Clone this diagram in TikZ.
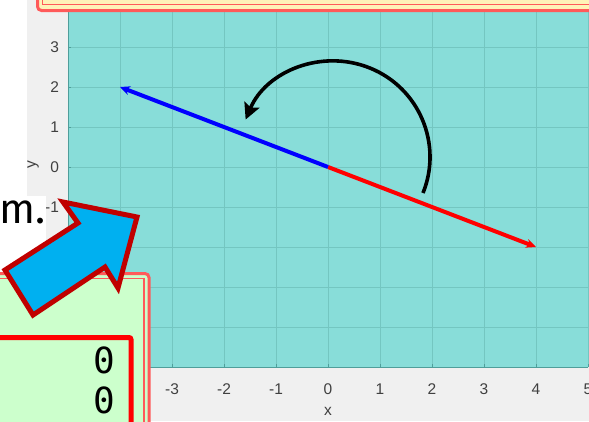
\documentclass[tikz,border=0pt]{standalone}
\usepackage{fontspec}
\setmainfont{Liberation Sans}
\newfontfamily\handfont{Fira Sans}
\newfontfamily\zerofont{DejaVu Sans Mono}
\usepackage{tikz}
\usetikzlibrary{arrows.meta,positioning,calc}
\definecolor{figgray}{HTML}{F0F0F0}
\definecolor{plotbg}{HTML}{88DDD9}
\definecolor{gridc}{HTML}{74C6C1}
\definecolor{axisc}{HTML}{4F9E9A}
\definecolor{ticklab}{HTML}{404040}
\definecolor{boxred}{HTML}{FF5A5A}
\definecolor{noteyellow}{HTML}{FFF2B8}
\definecolor{notegreen}{HTML}{CCFFCC}
\definecolor{arrowblue}{HTML}{00B0F0}
\definecolor{arrowedge}{HTML}{C00000}

\begin{document}
\begin{tikzpicture}[x=1pt, y=-1pt,
  tick/.style={font=\fontsize{15.5}{17}\selectfont\color{ticklab}, inner sep=0pt},
  gridline/.style={gridc, line width=0.9pt},
  vec/.style={line width=4pt, -{Stealth[length=10pt, width=9pt]}},
  turn/.style={line width=3.6pt, -{Stealth[length=16pt, width=16pt, inset=3pt]}},
  notebox/.style={boxred, line width=3pt, rounded corners=4pt},
]
% Canvas: 589 x 421 px, one px = 1pt, y grows downwards
\useasboundingbox (0,0) rectangle (589,421);
\fill[white] (0,0) rectangle (589,421);
\fill[figgray] (27,0) rectangle (589,421);

% Plot area: x in [-5,5] -> 52pt per unit, y in [-5,4.2] -> 40pt per unit
\begin{scope}[shift={(328,167)}, x=52pt, y=40pt]
  \fill[plotbg] (-5,-5) rectangle (5,4.2);
  \foreach \k in {-5,...,5} {
    \draw[gridline] (\k,-5) -- (\k,4.2);
    \draw[axisc, line width=0.8pt] (\k,-5) -- ++(0,3pt);
    \node[tick] (xl\k) at (\k,-5.55) {\k};
  }
  \foreach \k in {-5,...,4} {
    \draw[gridline] (-5,\k) -- (5,\k);
    \draw[axisc, line width=0.8pt] (-5,\k) -- ++(3pt,0);
    \node[tick, anchor=east] (yl\k) at (-5.17,\k) {\k};
  }
  \draw[axisc, line width=1pt] (-5,4.2) -- (-5,-5) -- (5,-5);
  \node[tick, rotate=90] (ylab) at (-5.67,0.05) {y};
  \node[tick] (xlab) at (0,-6.1) {x};

  % the vector and its rotated copy
  \coordinate (o) at (0,0);
  \coordinate (vb) at (-4,2);
  \coordinate (vr) at (4,-2);
  \draw[vec, red] (o) -- (vr);
  \draw[vec, blue] (o) -- (vb);
\end{scope}

% Rotation arrow (circle about (334,157), r = 96)
\coordinate (rs) at (423,193);
\draw[turn] (rs) arc[start angle=22, end angle=-157, radius=96];

% Callout strip at the top
\draw[notebox, fill=noteyellow] (37.5,-20) rectangle (640,10.5);
\draw[boxred, line width=1.8pt] (42.5,-20) rectangle (640,4.5);

% Text on the left
\fill[white] (0,196) rectangle (46,272);
\node[font=\handfont\fontsize{42}{46}\selectfont, anchor=base east, inner sep=0pt] (txt) at (46,223) {m.};

% Result box
\draw[notebox, fill=notegreen] (-20,273.5) rectangle (149,460);
\draw[boxred, line width=1.8pt] (-20,278.5) rectangle (144,460);
\draw[red, line width=5pt, rounded corners=2pt] (-20,337.5) rectangle (131,470);
\node[font=\zerofont\fontsize{36}{40}\selectfont, anchor=base east, inner sep=0pt] (r1) at (115,373) {0};
\node[font=\zerofont\fontsize{36}{40}\selectfont, anchor=base east, inner sep=0pt] (r2) at (115,413) {0};

% Block arrow pointing into the plot
\draw[line width=5pt, draw=arrowedge, fill=arrowblue, line join=miter]
  (5,270) -- (78,223) -- (63,202) -- (137,217) -- (118,288) -- (105,267) -- (33,315) -- cycle;
\end{tikzpicture}
\end{document}
